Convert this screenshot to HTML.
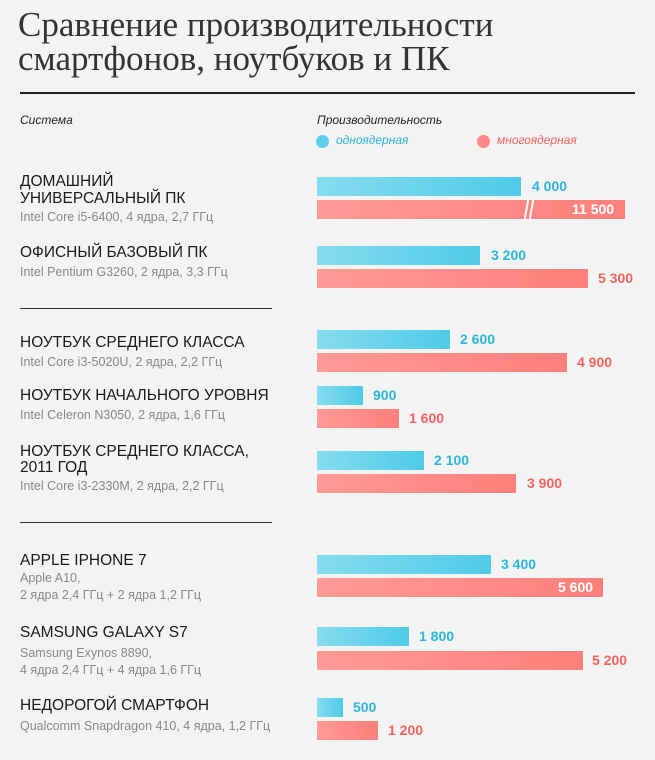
<!DOCTYPE html>
<html><head><meta charset="utf-8"><style>
body{margin:0;background:#f3f3f3;}
#c{position:relative;width:655px;height:760px;background:#f3f3f3;font-family:"Liberation Sans",sans-serif;overflow:hidden}
.a{position:absolute;white-space:nowrap}
.h1{font-family:"Liberation Serif",serif;font-size:35px;color:#333;left:18px;line-height:34px}
.t{left:20px;font-size:15.5px;color:#1a1a1a;line-height:17px}
.s{left:20px;font-size:12.5px;color:#888;line-height:17px}
.b{left:317px;height:19px;background:linear-gradient(90deg,#86dcef,#4ecbe8)}
.r{left:317px;height:19px;background:linear-gradient(90deg,#ff9a96,#ff7f7b)}
.vb{font-size:14px;font-weight:bold;color:#2db6d9;line-height:19px}
.vr{font-size:14px;font-weight:bold;color:#f2625e;line-height:19px}
.vw{font-size:14px;font-weight:bold;color:#fff;line-height:19px}
.sep{left:20px;width:252px;height:1px;background:#333}
.hd{font-size:12px;font-style:italic;color:#222}
</style></head><body><div id="c">
<div class="a h1" style="top:8px">Сравнение производительности</div>
<div class="a h1" style="top:42px">смартфонов, ноутбуков и ПК</div>
<div class="a" style="left:20px;top:92px;width:615px;height:2px;background:#222"></div>
<div class="a hd" style="left:20px;top:113px">Система</div>
<div class="a hd" style="left:317px;top:113px">Производительность</div>
<div class="a" style="left:316px;top:135px;width:13px;height:13px;border-radius:50%;background:#5ccfea"></div>
<div class="a hd" style="left:336px;top:133px;color:#2db6d9">одноядерная</div>
<div class="a" style="left:477px;top:135px;width:13px;height:13px;border-radius:50%;background:#ff8783"></div>
<div class="a hd" style="left:497px;top:133px;color:#f2625e">многоядерная</div>

<div class="a t" style="top:173px">ДОМАШНИЙ</div>
<div class="a t" style="top:190px">УНИВЕРСАЛЬНЫЙ ПК</div>
<div class="a s" style="top:209px">Intel Core i5-6400, 4 ядра, 2,7 ГГц</div>
<div class="a b" style="top:177px;width:204px"></div><div class="a vb" style="left:532px;top:177px">4 000</div>
<div class="a r" style="top:200px;width:308px"></div>
<div class="a" style="left:522px;top:198px;width:14px;height:23px;background:linear-gradient(100deg,transparent 30%,#f3f3f3 30%,#f3f3f3 42%,transparent 42%,transparent 58%,#f3f3f3 58%,#f3f3f3 70%,transparent 70%)"></div>
<div class="a vw" style="left:572px;top:200px">11 500</div>

<div class="a t" style="top:244px">ОФИСНЫЙ БАЗОВЫЙ ПК</div>
<div class="a s" style="top:264px">Intel Pentium G3260, 2 ядра, 3,3 ГГц</div>
<div class="a b" style="top:246px;width:163px"></div><div class="a vb" style="left:491px;top:246px">3 200</div>
<div class="a r" style="top:269px;width:271px"></div><div class="a vr" style="left:598px;top:269px">5 300</div>

<div class="a sep" style="top:308px"></div>

<div class="a t" style="top:334px">НОУТБУК СРЕДНЕГО КЛАССА</div>
<div class="a s" style="top:354px">Intel Core i3-5020U, 2 ядра, 2,2 ГГц</div>
<div class="a b" style="top:330px;width:133px"></div><div class="a vb" style="left:460px;top:330px">2 600</div>
<div class="a r" style="top:353px;width:250px"></div><div class="a vr" style="left:577px;top:353px">4 900</div>

<div class="a t" style="top:387px">НОУТБУК НАЧАЛЬНОГО УРОВНЯ</div>
<div class="a s" style="top:407px">Intel Celeron N3050, 2 ядра, 1,6 ГГц</div>
<div class="a b" style="top:386px;width:46px"></div><div class="a vb" style="left:373px;top:386px">900</div>
<div class="a r" style="top:409px;width:82px"></div><div class="a vr" style="left:409px;top:409px">1 600</div>

<div class="a t" style="top:443px">НОУТБУК СРЕДНЕГО КЛАССА,</div>
<div class="a t" style="top:459px">2011 ГОД</div>
<div class="a s" style="top:478px">Intel Core i3-2330M, 2 ядра, 2,2 ГГц</div>
<div class="a b" style="top:451px;width:107px"></div><div class="a vb" style="left:434px;top:451px">2 100</div>
<div class="a r" style="top:474px;width:199px"></div><div class="a vr" style="left:527px;top:474px">3 900</div>

<div class="a sep" style="top:522px"></div>

<div class="a t" style="top:552px">APPLE IPHONE 7</div>
<div class="a s" style="top:570px">Apple A10,</div>
<div class="a s" style="top:587px">2 ядра 2,4 ГГц + 2 ядра 1,2 ГГц</div>
<div class="a b" style="top:555px;width:174px"></div><div class="a vb" style="left:501px;top:555px">3 400</div>
<div class="a r" style="top:578px;width:286px"></div><div class="a vw" style="left:558px;top:578px">5 600</div>

<div class="a t" style="top:624px">SAMSUNG GALAXY S7</div>
<div class="a s" style="top:645px">Samsung Exynos 8890,</div>
<div class="a s" style="top:662px">4 ядра 2,4 ГГц + 4 ядра 1,6 ГГц</div>
<div class="a b" style="top:627px;width:92px"></div><div class="a vb" style="left:419px;top:627px">1 800</div>
<div class="a r" style="top:651px;width:266px"></div><div class="a vr" style="left:592px;top:651px">5 200</div>

<div class="a t" style="top:697px">НЕДОРОГОЙ СМАРТФОН</div>
<div class="a s" style="top:718px">Qualcomm Snapdragon 410, 4 ядра, 1,2 ГГц</div>
<div class="a b" style="top:698px;width:26px"></div><div class="a vb" style="left:353px;top:698px">500</div>
<div class="a r" style="top:721px;width:61px"></div><div class="a vr" style="left:388px;top:721px">1 200</div>
</div></body></html>
